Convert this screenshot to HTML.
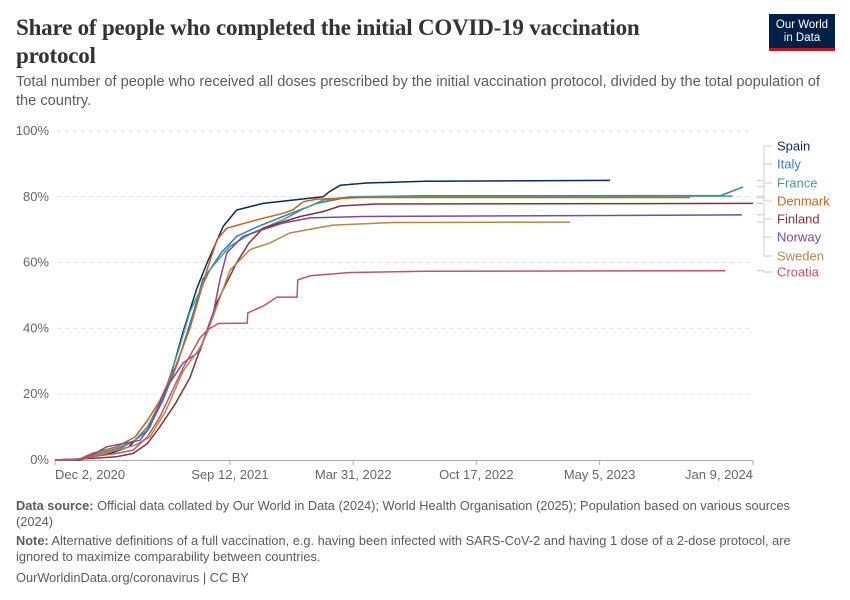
<!DOCTYPE html>
<html><head><meta charset="utf-8"><style>
body{margin:0;background:#fff;width:850px;height:600px;overflow:hidden;font-family:"Liberation Sans",sans-serif}
.t{position:absolute;left:16px;top:14px;width:700px;font-family:"Liberation Serif",serif;font-weight:bold;font-size:23px;line-height:28px;color:#333;letter-spacing:-0.2px}
.s{position:absolute;left:16px;top:73px;width:806px;font-size:14.6px;line-height:19px;color:#5b5b5b}
.logo{position:absolute;left:769px;top:14px;width:66px;height:37px;background:#002147;border-bottom:3px solid #c4161c;box-sizing:border-box;color:#fff;font-size:11.5px;line-height:13px;text-align:center;padding-top:5px}
.f{position:absolute;left:16px;width:780px;font-size:12.8px;line-height:16px;color:#5b5b5b}
</style></head><body>
<div class="t">Share of people who completed the initial COVID-19 vaccination protocol</div>
<div class="s">Total number of people who received all doses prescribed by the initial vaccination protocol, divided by the total population of the country.</div>
<div class="logo">Our World<br>in Data</div>
<svg id="chart" width="850" height="600" style="position:absolute;left:0;top:0"></svg>
<div class="f" style="top:498px"><b>Data source:</b> Official data collated by Our World in Data (2024); World Health Organisation (2025); Population based on various sources (2024)</div>
<div class="f" style="top:533px"><b>Note:</b> Alternative definitions of a full vaccination, e.g. having been infected with SARS-CoV-2 and having 1 dose of a 2-dose protocol, are ignored to maximize comparability between countries.</div>
<div class="f" style="top:570px">OurWorldinData.org/coronavirus | CC BY</div>
<script>
const yTicks=[0,20,40,60,80,100];
const xTickDays=[0,284,484,684,884,1133];
const xTickLabels=["Dec 2, 2020","Sep 12, 2021","Mar 31, 2022","Oct 17, 2022","May 5, 2023","Jan 9, 2024"];
const names=["Spain","Italy","France","Denmark","Finland","Norway","Sweden","Croatia"];
const spain=[[0,0],[40,0],[60,1],[90,2],[120,4],[150,10],[170,17],[187,25],[208,39],[230,52],[247,60],[273,71],[295,76],[338,78],[435,80],[445,81.5],[463,83.5],[506,84.2],[600,84.7],[901,85]];
const italy=[[0,0],[40,0.3],[60,1.5],[100,3],[130,6],[150,9],[175,18],[200,30],[225,45],[240,55],[252,58],[270,63],[295,68],[330,71],[370,74],[425,78],[479,80],[600,80.3],[1081,80.4],[1117,83]];
const france=[[0,0],[40,0.2],[60,1.5],[100,3.5],[130,6],[150,10],[175,19],[200,33],[219,45],[252,58],[284,65],[320,69],[370,73],[400,76],[435,79],[480,80],[1100,80.2]];
const denmark=[[0,0],[40,0.3],[60,2],[100,4],[130,7],[150,12],[170,18],[195,28],[219,40],[247,58],[263,67],[279,70.5],[328,73],[370,75],[386,76],[403,78.5],[425,79.3],[500,79.8],[1031,79.8]];
const finland=[[0,0],[60,0.5],[100,1],[127,2],[150,5],[170,10],[195,17],[219,25],[240,36],[263,48],[295,60],[315,66],[338,70.5],[398,74],[435,75.5],[463,77.2],[520,77.8],[1133,78]];
const norway=[[0,0],[40,0.2],[60,1.5],[84,4],[110,5],[138,6],[154,10],[181,22],[208,29.5],[235,33],[257,44.7],[268,55],[279,63],[305,68],[370,72],[414,73.6],[500,74],[1115,74.5]];
const sweden=[[0,0],[40,0.3],[60,1],[100,3],[130,4.5],[154,7],[180,15],[208,27],[235,34],[247,38.6],[265,48],[284,57.7],[317,64],[349,66],[381,69],[451,71.4],[550,72.2],[836,72.3]];
const croatia=[[0,0],[40,0.2],[60,1],[100,2],[127,3],[150,7],[170,13],[208,28],[235,37],[247,39.5],[265,41.5],[312,41.6],[313,44.7],[340,47],[360,49.5],[393,49.5],[394,54.7],[414,56],[479,57],[600,57.4],[1088,57.5]];
const colors=["#0b2b5b","#3b78c6","#4a9e86","#c8621c","#883039","#7c4a9e","#b98548","#c4526a"];
const labelY=[146,164,183,201,219,237,256,272];
const series=[spain,italy,france,denmark,finland,norway,sweden,croatia];
const NS="http://www.w3.org/2000/svg",svg=document.getElementById("chart");
const X=d=>55+d*(698/1133), Y=v=>460-v*3.29;
function mk(t,a){const e=document.createElementNS(NS,t);for(const k in a)e.setAttribute(k,a[k]);svg.appendChild(e);return e;}
yTicks.forEach(v=>{
  if(v>0){const g=mk("line",{x1:57,x2:752,y1:Y(v),y2:Y(v),stroke:"#ddd","stroke-dasharray":"4,4"});
  
  }
  const t=mk("text",{x:49,y:Y(v)+4,"text-anchor":"end","font-size":13,fill:"#666","font-family":"Liberation Sans"});t.textContent=v+"%";
  
  
});
const ax=mk("line",{x1:55,x2:752,y1:460.5,y2:460.5,stroke:"#aaa"});


xTickDays.forEach((d,i)=>{
  const tk=mk("line",{x1:X(d),x2:X(d),y1:460,y2:465,stroke:"#aaa"});
  
  
  const anc=i==0?"start":(i==xTickDays.length-1?"end":"middle");
  const t=mk("text",{x:X(d),y:479,"text-anchor":anc,"font-size":13,fill:"#666","font-family":"Liberation Sans"});t.textContent=xTickLabels[i];
  
  
});
series.forEach((s,i)=>{
  const p=mk("path",{d:"M"+s.map(q=>X(q[0]).toFixed(1)+","+Y(q[1]).toFixed(1)).join("L"),fill:"none",stroke:colors[i],"stroke-width":1.5,"stroke-linejoin":"round"});
  
  
  const last=s[s.length-1],ly=Y(last[1]),ty=labelY[i];
  const c=mk("path",{d:`M757,${ly.toFixed(1)}H764V${ty}H772`,fill:"none",stroke:"#ccc"});
  
  
  const t=mk("text",{x:777,y:labelY[i]+4.5,"font-size":13,fill:colors[i],"font-family":"Liberation Sans"});t.textContent=names[i];
  
  
});
</script>
</body></html>
